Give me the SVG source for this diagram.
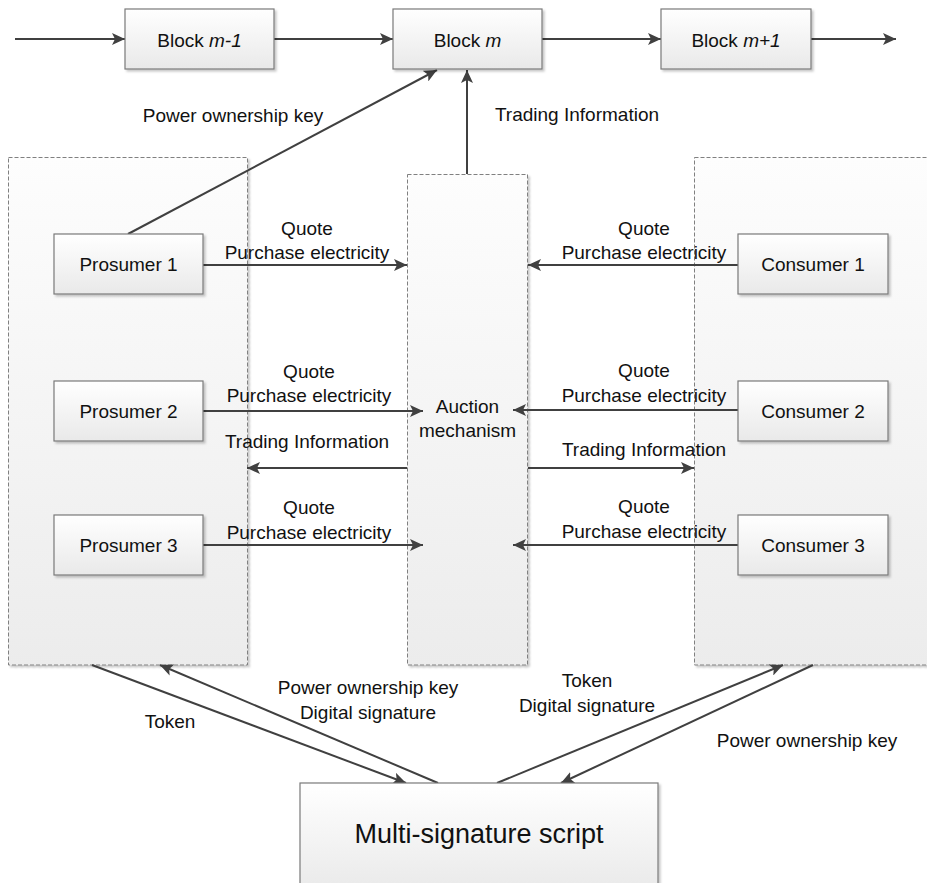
<svg xmlns="http://www.w3.org/2000/svg" width="927" height="883" viewBox="0 0 927 883">
<style>
  text { font-family: "Liberation Sans", Arial, sans-serif; fill: #111; }
  .lbl { font-size: 19px; text-anchor: middle; }
  .node rect { fill: url(#boxGrad); stroke: #7a7a7a; stroke-width: 1.2; filter: url(#shadow); }
  .node text { font-size: 19px; text-anchor: middle; }
  .cont { fill: url(#contGrad); stroke: #808080; stroke-width: 1; stroke-dasharray: 4 2; filter: url(#shadow); }
  .conn line { stroke: #404040; stroke-width: 2; fill: none; }
  .arr { marker-end: url(#ah); }
</style>
<defs>
  <linearGradient id="boxGrad" x1="0" y1="0" x2="0" y2="1">
    <stop offset="0" stop-color="#ffffff"/>
    <stop offset="1" stop-color="#e9e9e9"/>
  </linearGradient>
  <linearGradient id="contGrad" x1="0" y1="0" x2="0" y2="1">
    <stop offset="0" stop-color="#fdfdfd"/>
    <stop offset="1" stop-color="#ececec"/>
  </linearGradient>
  <filter id="shadow" x="-10%" y="-10%" width="120%" height="120%">
    <feDropShadow dx="2" dy="2" stdDeviation="1" flood-color="#000" flood-opacity="0.22"/>
  </filter>
  <marker id="ah" markerUnits="userSpaceOnUse" markerWidth="14" markerHeight="12" refX="13" refY="6" orient="auto">
    <path d="M0,0 L13,6 L0,12 L3,6 z" fill="#404040"/>
  </marker>
</defs>
<rect width="927" height="883" fill="#ffffff"/>

<g id="containers">
  <rect id="prosumers" class="cont" x="8.5" y="157.5" width="239" height="507.5"/>
  <rect id="auction-area" class="cont" x="407.5" y="174.5" width="120" height="490.5"/>
  <rect id="consumers" class="cont" x="694.5" y="157.5" width="240" height="507.5"/>
</g>

<g id="connectors" class="conn">
  <line class="arr" x1="15" y1="39" x2="125" y2="39"/>
  <line class="arr" x1="274" y1="39" x2="393" y2="39"/>
  <line class="arr" x1="542" y1="39" x2="661" y2="39"/>
  <line class="arr" x1="811" y1="39" x2="896" y2="39"/>
  <line class="arr" x1="128" y1="234" x2="437" y2="70"/>
  <line class="arr" x1="467" y1="174" x2="467" y2="70"/>
  <line class="arr" x1="203" y1="265" x2="407" y2="265"/>
  <line class="arr" x1="738" y1="265" x2="528" y2="265"/>
  <line class="arr" x1="203" y1="411" x2="423" y2="411"/>
  <line class="arr" x1="738" y1="410" x2="513" y2="410"/>
  <line class="arr" x1="407" y1="468" x2="247" y2="468"/>
  <line class="arr" x1="528" y1="468" x2="694" y2="468"/>
  <line class="arr" x1="203" y1="545" x2="423" y2="545"/>
  <line class="arr" x1="738" y1="545" x2="513" y2="545"/>
  <line class="arr" x1="92" y1="665" x2="406" y2="783"/>
  <line class="arr" x1="438" y1="783" x2="160" y2="665"/>
  <line class="arr" x1="497" y1="783" x2="783" y2="665"/>
  <line class="arr" x1="813" y1="665" x2="561" y2="783"/>
</g>

<g id="labels">
  <text class="lbl" x="233" y="122">Power ownership key</text>
  <text class="lbl" x="577" y="121">Trading Information</text>
  <text class="lbl" x="307" y="235">Quote</text>
  <text class="lbl" x="307" y="259">Purchase electricity</text>
  <text class="lbl" x="644" y="235">Quote</text>
  <text class="lbl" x="644" y="259">Purchase electricity</text>
  <text class="lbl" x="309" y="378">Quote</text>
  <text class="lbl" x="309" y="402">Purchase electricity</text>
  <text class="lbl" x="644" y="377">Quote</text>
  <text class="lbl" x="644" y="402">Purchase electricity</text>
  <text class="lbl" x="307" y="448">Trading Information</text>
  <text class="lbl" x="644" y="456">Trading Information</text>
  <text class="lbl" x="309" y="514">Quote</text>
  <text class="lbl" x="309" y="539">Purchase electricity</text>
  <text class="lbl" x="644" y="513">Quote</text>
  <text class="lbl" x="644" y="538">Purchase electricity</text>
  <text class="lbl" x="368" y="694">Power ownership key</text>
  <text class="lbl" x="368" y="719">Digital signature</text>
  <text class="lbl" x="170" y="728">Token</text>
  <text class="lbl" x="587" y="687">Token</text>
  <text class="lbl" x="587" y="712">Digital signature</text>
  <text class="lbl" x="807" y="747">Power ownership key</text>
</g>

<g id="block-m-1" class="node">
  <rect x="125" y="9" width="149" height="60"/>
  <text x="199.5" y="47">Block <tspan font-style="italic">m-1</tspan></text>
</g>
<g id="block-m" class="node">
  <rect x="393" y="9" width="149" height="60"/>
  <text x="467.5" y="47">Block <tspan font-style="italic">m</tspan></text>
</g>
<g id="block-m+1" class="node">
  <rect x="661" y="9" width="150" height="60"/>
  <text x="736" y="47">Block <tspan font-style="italic">m+1</tspan></text>
</g>

<g id="auction" class="node">
  <text x="467.5" y="413">Auction</text>
  <text x="467.5" y="437">mechanism</text>
</g>

<g id="prosumer-1" class="node">
  <rect x="54" y="234" width="149" height="60"/>
  <text x="128.5" y="271">Prosumer 1</text>
</g>
<g id="prosumer-2" class="node">
  <rect x="54" y="381" width="149" height="60"/>
  <text x="128.5" y="418">Prosumer 2</text>
</g>
<g id="prosumer-3" class="node">
  <rect x="54" y="515" width="149" height="60"/>
  <text x="128.5" y="552">Prosumer 3</text>
</g>

<g id="consumer-1" class="node">
  <rect x="738" y="234" width="150" height="60"/>
  <text x="813" y="271">Consumer 1</text>
</g>
<g id="consumer-2" class="node">
  <rect x="738" y="381" width="150" height="60"/>
  <text x="813" y="418">Consumer 2</text>
</g>
<g id="consumer-3" class="node">
  <rect x="738" y="515" width="150" height="60"/>
  <text x="813" y="552">Consumer 3</text>
</g>

<g id="multisig" class="node">
  <rect x="300" y="783" width="358" height="110"/>
  <text x="479" y="843" style="font-size:27px">Multi-signature script</text>
</g>
</svg>
